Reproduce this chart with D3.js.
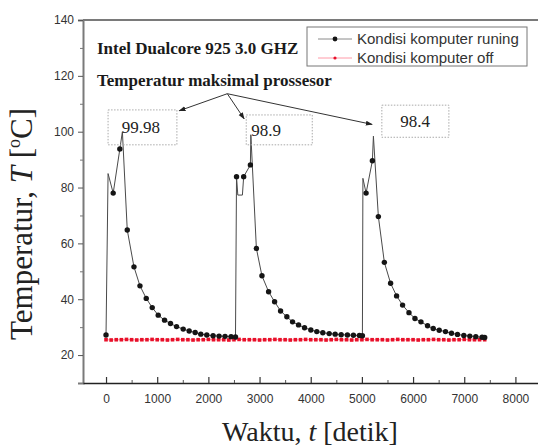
<!DOCTYPE html>
<html>
<head>
<meta charset="utf-8">
<script src="https://cdn.jsdelivr.net/npm/d3@7"></script>
<style>
  body { margin: 0; background: #fff; }
  svg { display: block; }
</style>
</head>
<body>
<div id="chart"></div>
<script>
// ---------- data ----------

// running computer: sampled readings (drawn with markers)
let runTime = [0, 140, 270, 415, 546, 663, 786, 903, 1020, 1144, 1260, 1378, 1508, 1625, 1742, 1852, 1969, 2092, 2209, 2326, 2443, 2530,
    2550, 2690, 2821, 2938, 3047, 3177, 3294, 3411, 3534, 3645, 3762, 3879, 4002, 4119, 4236, 4361, 4478, 4595, 4717, 4834, 4951, 5010,
    5082, 5205, 5322, 5439, 5561, 5678, 5795, 5920, 6037, 6154, 6283, 6394, 6511, 6634, 6751, 6868, 6992, 7109, 7226, 7349, 7400]
let runTemp = [27.2, 78.0, 93.8, 64.8, 51.6, 44.8, 40.3, 37.0, 34.3, 32.5, 31.3, 30.2, 29.3, 28.6, 28.1, 27.5, 27.2, 26.9, 26.8, 26.7, 26.6, 26.5,
    83.9, 83.9, 88.1, 58.2, 48.4, 42.7, 39.1, 35.8, 33.7, 31.9, 30.8, 29.8, 29.0, 28.4, 28.0, 27.7, 27.5, 27.3, 27.2, 27.1, 27.0, 26.9,
    78.0, 89.6, 69.6, 53.2, 45.7, 41.2, 37.9, 35.2, 33.1, 31.9, 30.5, 29.5, 28.9, 28.4, 27.8, 27.4, 27.0, 26.8, 26.6, 26.4, 26.3]

// running computer: extra vertices of the trace without markers (spikes and peaks)
let spikeTime = [40, 320, 2575, 2665, 2830, 5020, 5225]
let spikeTemp = [85.0, 99.98, 77.3, 77.3, 98.9, 83.3, 98.4]

// maximum processor temperatures written in the boxes
let peakLabels = ["99.98", "98.9", "98.4"]

// computer off
let offTime = [0, 100, 200, 300, 400, 500, 600, 700, 800, 900, 1000, 1100, 1200, 1300, 1400, 1500, 1600, 1700, 1800, 1900,
    2000, 2100, 2200, 2300, 2400, 2500, 2600, 2700, 2800, 2900, 3000, 3100, 3200, 3300, 3400, 3500, 3600, 3700, 3800, 3900,
    4000, 4100, 4200, 4300, 4400, 4500, 4600, 4700, 4800, 4900, 5000, 5100, 5200, 5300, 5400, 5500, 5600, 5700, 5800, 5900,
    6000, 6100, 6200, 6300, 6400, 6500, 6600, 6700, 6800, 6900, 7000, 7100, 7200, 7300, 7400]
let offTemp = [25.5, 25.4, 25.5, 25.5, 25.6, 25.5, 25.4, 25.5, 25.5, 25.6, 25.5, 25.5, 25.4, 25.5, 25.6, 25.5, 25.5, 25.4, 25.5, 25.5,
    25.6, 25.5, 25.5, 25.5, 25.4, 25.5, 25.6, 25.5, 25.5, 25.5, 25.4, 25.5, 25.5, 25.6, 25.5, 25.5, 25.4, 25.5, 25.5, 25.6,
    25.5, 25.5, 25.5, 25.4, 25.5, 25.6, 25.5, 25.5, 25.4, 25.5, 25.5, 25.6, 25.5, 25.5, 25.5, 25.4, 25.5, 25.6, 25.5, 25.5,
    25.5, 25.4, 25.5, 25.5, 25.6, 25.5, 25.5, 25.4, 25.5, 25.5, 25.6, 25.5, 25.5, 25.5, 25.5]

let xTicks = [0, 1000, 2000, 3000, 4000, 5000, 6000, 7000, 8000]
let yTicks = [20, 40, 60, 80, 100, 120, 140]
let legendLabels = ["Kondisi komputer runing", "Kondisi komputer off"]

// ---------- layout ----------
let width = 538, height = 447
let plot = {left: 83, right: 541, top: 20, bottom: 383}

let svg = d3.select("#chart")
    .append("svg")
    .attr("width", width)
    .attr("height", height)

let x = d3.scaleLinear().domain([-450, 8500]).range([plot.left, plot.right])
let y = d3.scaleLinear().domain([10, 140]).range([plot.bottom, plot.top])

let serif = "'Liberation Serif', 'Times New Roman', serif"
let sans = "'Liberation Sans', Arial, sans-serif"

// top and right frame lines
svg.append("path")
    .attr("d", "M" + plot.left + "," + plot.top + "H" + plot.right + "V" + plot.bottom)
    .attr("fill", "none")
    .attr("stroke", "#7a7a7a")
    .attr("stroke-width", 2)

// y axis (ticks outward)
let yAxis = svg.append("g")
    .attr("transform", "translate(" + plot.left + ",0)")
    .call(d3.axisLeft(y).tickValues(yTicks).tickSize(5).tickPadding(4))
yAxis.select(".domain").attr("stroke", "#7a7a7a").attr("stroke-width", 2)
yAxis.selectAll(".tick line").attr("stroke", "#555")
yAxis.selectAll(".tick text").attr("font-family", sans).attr("font-size", 12).attr("fill", "#333")

// y minor ticks
svg.append("g")
    .attr("transform", "translate(" + plot.left + ",0)")
    .call(d3.axisLeft(y).tickValues(d3.range(30, 140, 20)).tickSize(3).tickFormat(""))
    .call(g => g.select(".domain").remove())
    .selectAll(".tick line").attr("stroke", "#777")

// x axis (ticks inward)
let xAxis = svg.append("g")
    .attr("transform", "translate(0," + plot.bottom + ")")
    .call(d3.axisBottom(x).tickValues(xTicks).tickFormat(d3.format("d"))
        .tickSizeInner(-6).tickSizeOuter(0).tickPadding(11))
xAxis.select(".domain").attr("stroke", "#222").attr("stroke-width", 1.6)
xAxis.selectAll(".tick line").attr("stroke", "#333").attr("stroke-width", 1.2)
xAxis.selectAll(".tick text").attr("font-family", sans).attr("font-size", 12).attr("fill", "#333")

// x minor ticks
svg.append("g")
    .attr("transform", "translate(0," + plot.bottom + ")")
    .call(d3.axisBottom(x).tickValues(d3.range(500, 8500, 1000)).tickSize(-3).tickFormat(""))
    .call(g => g.select(".domain").remove())
    .selectAll(".tick line").attr("stroke", "#555")

// axis labels
svg.append("text")
    .attr("x", 310)
    .attr("y", 441)
    .attr("text-anchor", "middle")
    .attr("font-family", serif)
    .attr("font-size", 28)
    .attr("fill", "#222")
    .call(t => {
        t.append("tspan").text("Waktu, ")
        t.append("tspan").attr("font-style", "italic").text("t")
        t.append("tspan").text(" [detik]")
    })

svg.append("text")
    .attr("transform", "translate(32,224) rotate(-90)")
    .attr("text-anchor", "middle")
    .attr("font-family", serif)
    .attr("font-size", 31)
    .attr("fill", "#222")
    .call(t => {
        t.append("tspan").text("Temperatur, ")
        t.append("tspan").attr("font-style", "italic").text("T")
        t.append("tspan").text(" [")
        t.append("tspan").attr("font-size", 18).attr("dy", -12).text("o")
        t.append("tspan").attr("dy", 12).text("C]")
    })

// ---------- series ----------
let offData = offTime.map((t, i) => ({t: t, v: offTemp[i]}))
let runData = runTime.map((t, i) => ({t: t, v: runTemp[i]}))
let traceData = runData.concat(spikeTime.map((t, i) => ({t: t, v: spikeTemp[i]})))
    .sort((a, b) => a.t - b.t)

let line = d3.line().x(d => x(d.t)).y(d => y(d.v))

// computer off: faint line and red dots
svg.append("path")
    .datum(offData)
    .attr("d", line)
    .attr("fill", "none")
    .attr("stroke", "#ff9aa8")
    .attr("stroke-width", 1)

svg.selectAll(".off-dot")
    .data(offData)
    .enter()
    .append("rect")
    .classed("off-dot", true)
    .attr("x", d => x(d.t) - 1.8)
    .attr("y", d => y(d.v) - 1.8)
    .attr("width", 3.6)
    .attr("height", 3.6)
    .attr("fill", "#e8102a")

// computer running: gray trace and black markers
svg.append("path")
    .datum(traceData)
    .attr("d", line)
    .attr("fill", "none")
    .attr("stroke", "#4a4a4a")
    .attr("stroke-width", 1)

svg.selectAll(".run-dot")
    .data(runData)
    .enter()
    .append("circle")
    .classed("run-dot", true)
    .attr("cx", d => x(d.t))
    .attr("cy", d => y(d.v))
    .attr("r", 2.7)
    .attr("fill", "#151515")

// ---------- annotations ----------
svg.append("text")
    .attr("x", 97)
    .attr("y", 54)
    .attr("font-family", serif)
    .attr("font-weight", "bold")
    .attr("font-size", 17)
    .attr("fill", "#1a1a1a")
    .text("Intel Dualcore 925 3.0 GHZ")

svg.append("text")
    .attr("x", 97)
    .attr("y", 86)
    .attr("font-family", serif)
    .attr("font-weight", "bold")
    .attr("font-size", 17)
    .attr("fill", "#1a1a1a")
    .text("Temperatur maksimal prossesor")

// boxes around the peak values (data coordinates of each box and its text)
let boxes = [
    {t0: 40, t1: 1385, v0: 95.3, v1: 107.8, tText: 680},
    {t0: 2740, t1: 4030, v0: 95.3, v1: 106.0, tText: 3130},
    {t0: 5390, t1: 6700, v0: 98.0, v1: 109.5, tText: 6040}
]
boxes.forEach(function(b, i) {
    svg.append("rect")
        .attr("x", x(b.t0))
        .attr("y", y(b.v1))
        .attr("width", x(b.t1) - x(b.t0))
        .attr("height", y(b.v0) - y(b.v1))
        .attr("fill", "none")
        .attr("stroke", "#aaa")
        .attr("stroke-width", 1)
        .attr("stroke-dasharray", "1.5,1.5")
    svg.append("text")
        .attr("x", x(b.tText))
        .attr("y", (y(b.v0) + y(b.v1)) / 2 + 6)
        .attr("text-anchor", "middle")
        .attr("font-family", serif)
        .attr("font-size", 17)
        .attr("fill", "#222")
        .text(peakLabels[i])
})

// arrows from the caption to each box
svg.append("defs").append("marker")
    .attr("id", "arrow")
    .attr("viewBox", "0 0 10 10")
    .attr("refX", 9)
    .attr("refY", 5)
    .attr("markerWidth", 7)
    .attr("markerHeight", 7)
    .attr("orient", "auto")
    .append("path")
    .attr("d", "M0,1.5L10,5L0,8.5Z")
    .attr("fill", "#222")

let arrowStart = {t: 2370, v: 113.6}
let arrowEnds = [{t: 1430, v: 107.5}, {t: 2700, v: 104.6}, {t: 5200, v: 102.6}]
arrowEnds.forEach(function(e) {
    svg.append("line")
        .attr("x1", x(arrowStart.t))
        .attr("y1", y(arrowStart.v))
        .attr("x2", x(e.t))
        .attr("y2", y(e.v))
        .attr("stroke", "#333")
        .attr("stroke-width", 1)
        .attr("marker-end", "url(#arrow)")
})

// ---------- legend ----------
let legend = svg.append("g").attr("transform", "translate(307,27)")
legend.append("rect")
    .attr("width", 220)
    .attr("height", 39)
    .attr("fill", "#fff")
    .attr("stroke", "#777")
    .attr("stroke-width", 1)

let legendStyles = [
    {lineColor: "#8a8a8a", dotColor: "#151515", r: 2.4},
    {lineColor: "#ff9aa8", dotColor: "#e8102a", r: 1.6}
]
legendLabels.forEach(function(label, i) {
    let ly = 12 + i * 19
    legend.append("line")
        .attr("x1", 11).attr("x2", 45)
        .attr("y1", ly).attr("y2", ly)
        .attr("stroke", legendStyles[i].lineColor)
        .attr("stroke-width", 1)
    legend.append("circle")
        .attr("cx", 28).attr("cy", ly)
        .attr("r", legendStyles[i].r)
        .attr("fill", legendStyles[i].dotColor)
    legend.append("text")
        .attr("x", 50)
        .attr("y", ly + 5)
        .attr("font-family", sans)
        .attr("font-size", 15)
        .attr("fill", "#333")
        .text(label)
})
</script>
</body>
</html>
